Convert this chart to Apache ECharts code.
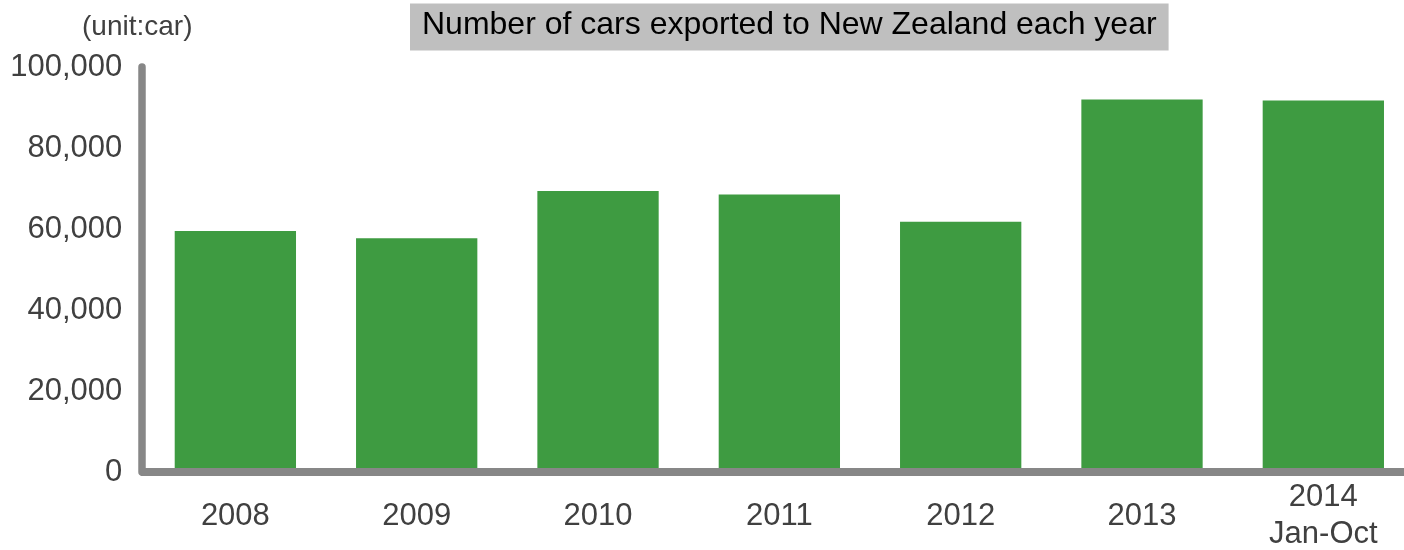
<!DOCTYPE html>
<html>
<head>
<meta charset="utf-8">
<script src="https://cdn.jsdelivr.net/npm/echarts@6/dist/echarts.min.js"></script>
<style>
  html, body { margin: 0; padding: 0; background: #ffffff; }
  #chart { width: 1404px; height: 550px; }
</style>
</head>
<body>
<div id="chart"></div>
<script>
// Yearly car exports to New Zealand
const categories = ['2008', '2009', '2010', '2011', '2012', '2013', '2014\nJan-Oct'];
const exportCounts = [59500, 57700, 69400, 68500, 61800, 92000, 91700];
const yTicks = { min: 0, max: 100000, interval: 20000 };

const FONT = "'Liberation Sans', Arial, sans-serif";
const AXIS_GRAY = '#878787';
const TEXT_GRAY = '#404040';

const chart = echarts.init(document.getElementById('chart'), null, { renderer: 'canvas' });

chart.setOption({
  backgroundColor: '#ffffff',
  animation: false,
  title: {
    text: 'Number of cars exported to New Zealand each year',
    left: 410,
    top: 4,
    padding: [6, 12, 9, 12],
    backgroundColor: '#bfbfbf',
    textStyle: {
      fontFamily: FONT,
      fontSize: 32,
      fontWeight: 'normal',
      color: '#000000',
      lineHeight: 31
    }
  },
  graphic: [{
    type: 'text',
    left: 82,
    top: 13,
    style: {
      text: '(unit:car)',
      font: '28px ' + FONT,
      fill: TEXT_GRAY
    }
  }],
  grid: {
    left: 144.7,
    right: -10,
    top: 67,
    bottom: 78,
    containLabel: false,
    outerBoundsMode: 'none'
  },
  xAxis: {
    type: 'category',
    data: categories,
    z: 3,
    axisLine: {
      show: true,
      lineStyle: { color: AXIS_GRAY, width: 8, cap: 'square' }
    },
    axisTick: { show: false },
    axisLabel: {
      fontFamily: FONT,
      fontSize: 31,
      color: TEXT_GRAY,
      margin: 44,
      lineHeight: 37,
      verticalAlign: 'middle',
      interval: 0
    },
    splitLine: { show: false }
  },
  yAxis: {
    type: 'value',
    min: yTicks.min,
    max: yTicks.max,
    interval: yTicks.interval,
    offset: 3.4,
    z: 3,
    axisLine: {
      show: true,
      lineStyle: { color: AXIS_GRAY, width: 7.5, cap: 'round' }
    },
    axisTick: { show: false },
    splitLine: { show: false },
    axisLabel: {
      fontFamily: FONT,
      fontSize: 31,
      color: TEXT_GRAY,
      margin: 19,
      formatter: v => v.toLocaleString('en-US')
    }
  },
  series: [{
    type: 'bar',
    data: exportCounts,
    barWidth: '66.9%',
    itemStyle: { color: '#3e9b41' }
  }]
});
</script>
</body>
</html>
